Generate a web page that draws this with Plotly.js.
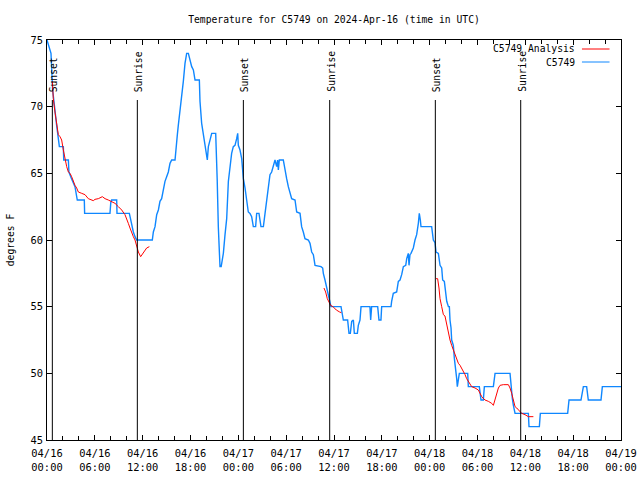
<!DOCTYPE html>
<html><head><meta charset="utf-8">
<script src="https://cdn.plot.ly/plotly-3.0.1.min.js"></script>
<style>html,body{margin:0;padding:0;background:#fff}#chart{width:640px;height:480px}</style>
</head><body><div id="chart"></div>
<script>
// hours since 2024-04-16 00:00 UTC
const blueHours = [0.0,0.5,0.7,0.8,1.0,1.21,1.35,1.42,1.55,2.05,2.1,2.68,2.75,3.0,3.2,3.51,3.8,4.68,4.72,7.9,8.0,8.11,8.74,8.78,10.33,10.41,10.62,10.83,11.04,11.25,13.21,13.34,13.55,13.76,13.97,14.17,14.38,14.59,14.8,15.01,15.22,15.43,15.64,16.06,16.18,16.35,16.47,16.68,16.89,17.1,17.31,17.52,17.73,17.94,18.15,18.36,18.57,19.11,19.19,19.4,19.61,19.82,20.11,20.24,20.45,20.66,21.16,21.2,21.35,21.49,21.7,21.85,21.91,22.12,22.33,22.54,22.75,22.96,23.16,23.37,23.58,23.79,23.92,24.0,24.21,24.42,24.63,24.84,25.05,25.25,25.46,25.67,25.88,26.17,26.3,26.59,26.84,27.14,27.35,27.56,27.76,27.97,28.18,28.39,28.6,28.81,28.93,29.02,29.14,29.64,29.86,30.06,30.27,30.48,30.69,31.11,31.32,31.74,31.94,32.15,32.36,32.78,32.99,33.2,33.41,33.62,34.37,34.58,34.66,34.87,35.08,35.21,35.42,35.62,36.88,36.96,37.17,37.71,37.88,38.05,38.22,38.43,38.55,38.93,39.05,39.26,39.39,40.51,40.6,40.72,41.48,41.64,41.89,41.98,43.15,43.23,43.44,43.86,44.07,44.28,44.49,44.7,45.0,45.12,45.32,45.41,45.53,45.66,45.74,45.95,46.16,46.37,46.58,46.7,46.83,46.91,48.25,48.34,48.46,48.67,48.8,49.09,49.3,49.51,49.63,49.84,50.01,50.14,50.35,50.47,50.55,50.68,50.76,50.97,51.1,51.27,51.39,51.47,51.6,51.72,52.77,52.85,54.23,54.32,54.44,54.73,54.86,55.99,56.2,58.08,58.2,58.37,58.5,58.71,60.38,60.46,61.76,61.88,65.31,65.48,66.98,67.28,67.69,67.9,69.49,69.66,72.0];
const blueTemps = [75.0,74.0,71.3,70.6,69.7,68.6,67.9,67.6,67.0,67.0,66.0,66.0,65.1,64.7,64.4,64.0,63.0,63.0,62.0,62.0,62.8,63.0,63.0,62.0,62.0,61.75,61.1,60.6,60.25,60.0,60.0,60.6,61.0,61.9,62.25,62.9,63.1,63.9,64.4,64.75,65.1,65.75,66.0,66.0,67.0,67.9,68.6,69.6,70.9,71.9,73.25,74.0,74.0,73.4,73.0,72.75,72.0,72.0,70.4,68.75,67.9,67.0,66.0,67.0,67.6,68.0,68.0,66.6,64.5,61.0,58.0,58.0,58.25,59.0,60.4,61.6,64.4,65.6,66.5,67.0,67.1,67.6,68.0,67.1,66.75,66.1,64.6,63.9,63.1,62.1,62.0,61.75,61.0,61.0,62.0,62.0,61.0,61.0,62.0,62.9,63.9,64.9,65.1,65.5,66.0,65.5,66.0,65.25,66.0,66.0,65.4,64.6,64.0,63.6,63.1,63.0,62.1,62.0,61.0,60.6,60.1,60.0,59.75,59.1,58.9,58.1,58.0,57.9,57.5,57.0,56.4,56.0,55.6,55.0,55.0,54.6,54.0,54.0,53.0,53.0,53.9,54.0,53.0,53.0,53.6,54.0,55.0,55.0,54.0,55.0,55.0,54.0,54.0,55.0,55.0,55.4,56.0,56.1,56.9,57.0,57.4,58.0,58.1,58.6,59.0,58.1,58.9,59.0,59.1,59.4,60.0,60.4,61.25,62.0,61.5,61.0,61.0,60.4,60.0,59.8,59.1,59.0,58.1,57.9,57.0,56.9,56.0,55.4,55.0,55.0,54.0,53.4,52.5,52.1,51.1,50.4,49.6,49.0,49.5,50.0,50.0,49.0,49.0,48.4,48.0,48.0,49.0,49.0,50.0,50.0,49.0,48.1,47.6,47.0,47.0,46.0,46.0,47.0,47.0,48.0,48.0,49.0,49.0,48.0,48.0,49.0,49.0];

// analysis series, null = gap
const redHours = [0.67,0.79,1.0,1.21,1.42,1.63,1.84,2.05,2.26,2.47,2.68,2.89,3.09,3.3,3.51,3.72,3.93,4.35,4.77,5.18,5.81,6.02,6.44,6.94,7.28,7.69,8.11,8.53,8.95,9.37,9.78,9.99,10.2,10.41,10.62,10.83,11.04,11.25,11.46,11.75,12.08,12.5,12.84,
  null,
  34.74,34.95,35.16,35.37,35.58,35.87,36.29,36.71,36.92,
  null,
  48.8,49.0,49.17,49.3,49.51,49.72,49.92,50.13,50.34,50.55,50.76,50.97,51.18,51.39,51.6,51.81,52.02,52.23,52.44,52.64,52.85,53.06,53.27,53.69,54.11,54.53,54.94,55.36,55.78,55.99,56.2,56.41,56.62,56.83,57.24,57.87,58.08,58.29,58.5,58.71,58.92,59.13,59.33,59.54,59.96,60.38,61.01];
const redTemps = [71.9,70.6,69.6,68.6,67.9,67.75,67.5,66.75,66.1,65.5,65.1,65.0,64.75,64.4,64.1,63.9,63.6,63.5,63.4,63.1,62.95,63.05,63.1,63.25,63.1,63.0,62.9,62.75,62.5,62.25,61.9,61.5,61.25,60.9,60.5,60.25,60.0,59.6,59.1,58.75,59.0,59.4,59.5,
  null,
  56.4,56.1,55.6,55.4,55.1,55.0,54.75,54.6,54.55,
  null,
  57.1,57.1,56.4,55.6,55.0,54.4,54.3,53.6,53.1,52.5,52.1,51.75,51.4,51.0,50.75,50.6,50.4,50.1,49.9,49.6,49.4,49.25,49.0,48.9,48.75,48.25,48.0,47.9,47.75,47.6,48.1,48.6,48.9,49.1,49.15,49.15,48.9,48.5,47.9,47.5,47.4,47.25,47.1,47.0,46.9,46.75,46.75];

const sunHours = [0.67, 11.33, 24.63, 35.46, 48.71, 59.42];
const sunLabels = ["Sunset","Sunrise","Sunset","Sunrise","Sunset","Sunrise"];

const tickHours = [0,6,12,18,24,30,36,42,48,54,60,66,72];
const tickLabels = ["04/16<br>00:00","04/16<br>06:00","04/16<br>12:00","04/16<br>18:00","04/17<br>00:00","04/17<br>06:00","04/17<br>12:00","04/17<br>18:00","04/18<br>00:00","04/18<br>06:00","04/18<br>12:00","04/18<br>18:00","04/19<br>00:00"];
const yTicks = [45,50,55,60,65,70,75];

const seriesNames = ["C5749 Analysis","C5749"];
const seriesColors = ["#ff0000","#0f87ff"];

const FONT = {family:"DejaVu Sans Mono, monospace", size:9.7, color:"#000"};
const XFONT = {family:"DejaVu Sans Mono, monospace", size:10.4, color:"#000"};

const traces = [
  {x: blueHours, y: blueTemps, type:"scatter", mode:"lines", name: seriesNames[1],
   line:{color: seriesColors[1], width:1.4}, showlegend:false},
  {x: redHours, y: redTemps, type:"scatter", mode:"lines", name: seriesNames[0],
   line:{color: seriesColors[0], width:1}, connectgaps:false, showlegend:false}
];

const shapes = [];
const annotations = [];
sunHours.forEach((h,i)=>{
  shapes.push({type:"line", xref:"x", yref:"paper", x0:h, x1:h, y0:0, y1:0.85,
    line:{color:"#000", width:1}});
  annotations.push({xref:"x", yref:"paper", x:h, y:0.865, xanchor:"center", yanchor:"bottom",
    xshift:1.5, text:sunLabels[i], textangle:-90, showarrow:false, font:FONT});
});
// legend (text right, sample line on right, as in original)
const legY = [0.9775, 0.945];
seriesNames.forEach((n,i)=>{
  annotations.push({xref:"paper", yref:"paper", x:0.923, y:legY[i], xanchor:"right", yanchor:"middle",
    text:n, showarrow:false, font:FONT});
  shapes.push({type:"line", xref:"paper", yref:"paper", x0:0.932, x1:0.98, y0:legY[i], y1:legY[i],
    line:{color:seriesColors[i], width:1}});
});

const layout = {
  width:640, height:480,
  margin:{l:47, r:19, t:40, b:40},
  paper_bgcolor:"#fff", plot_bgcolor:"#fff",
  font: FONT,
  title:{text:"Temperature for C5749 on 2024-Apr-16 (time in UTC)", font:FONT,
    x:0.5, xref:"paper", xanchor:"center", y:0.96, yref:"container", yanchor:"middle"},
  xaxis:{range:[0,72], tickmode:"array", tickvals:tickHours, ticktext:tickLabels,
    ticks:"inside", ticklen:5, tickcolor:"#000", showline:true, linecolor:"#000", linewidth:1,
    mirror:"ticks", showgrid:false, zeroline:false, tickfont:XFONT, ticklabelstandoff:4,
    minor:{tickmode:"linear", tick0:0, dtick:2, ticks:"inside", ticklen:4, tickcolor:"#000", showgrid:false}},
  yaxis:{range:[45,75], tickmode:"array", tickvals:yTicks,
    ticks:"inside", ticklen:5, tickcolor:"#000", showline:true, linecolor:"#000", linewidth:1,
    mirror:"ticks", showgrid:false, zeroline:false, tickfont:XFONT, ticklabelstandoff:1,
    title:{text:"degrees F", font:FONT, standoff:14}},
  shapes: shapes,
  annotations: annotations,
  showlegend:false
};

Plotly.newPlot("chart", traces, layout, {displayModeBar:false, staticPlot:true});
</script>
</body></html>
